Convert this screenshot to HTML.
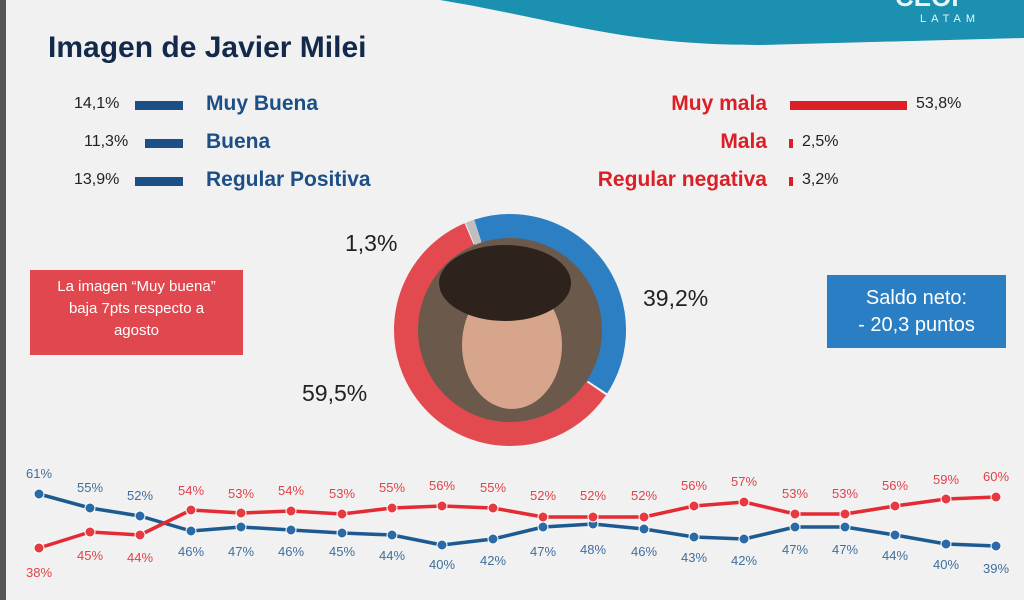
<!DOCTYPE html>
<html><head><meta charset="utf-8"><style>
body{margin:0;width:1024px;height:600px;overflow:hidden;background:#f1f1f1;font-family:"Liberation Sans",sans-serif;}
.t{position:absolute;white-space:nowrap;}
</style></head><body>
<svg width="1024" height="600" style="position:absolute;left:0;top:0">
<rect x="0" y="0" width="6" height="600" fill="#555"/>
<path d="M440 0 C560 20 620 45 760 45 L1024 38 L1024 0 Z" fill="#1b90b0"/>
<text x="920" y="22" font-size="11" fill="#e8f4f8" letter-spacing="5" font-family="Liberation Sans">LATAM</text>
<text x="895" y="6" font-size="26" font-weight="bold" fill="#e8f4f8" font-family="Liberation Sans">CEOP</text>
<rect x="135" y="101" width="48" height="9" fill="#1c4f86"/>
<rect x="145" y="139" width="38" height="9" fill="#1c4f86"/>
<rect x="135" y="177" width="48" height="9" fill="#1c4f86"/>
<rect x="790" y="101" width="117" height="9" fill="#dc1f26"/>
<rect x="789" y="139" width="4" height="9" fill="#dc1f26"/>
<rect x="789" y="177" width="4" height="9" fill="#dc1f26"/>
<circle cx="510" cy="330" r="93" fill="#6b5a4c"/>
<ellipse cx="512" cy="345" rx="50" ry="64" fill="#d6a58c"/>
<ellipse cx="505" cy="283" rx="66" ry="38" fill="#2e221c"/>
<g transform="rotate(-108 510 330)" fill="none" stroke-width="24">
<circle cx="510" cy="330" r="104" stroke="#2c7fc2" stroke-dasharray="256 400"/>
<circle cx="510" cy="330" r="104" stroke="#e24a50" stroke-dasharray="0 258 386 400"/>
<circle cx="510" cy="330" r="104" stroke="#bfbfbf" stroke-dasharray="0 645 8 400"/>
</g>
<rect x="30" y="270" width="213" height="85" fill="#e0474e"/>
<rect x="827" y="275" width="179" height="73" fill="#2a7fc4"/>
<g fill="none" stroke-width="3.5" stroke-linejoin="round">
<polyline stroke="#1e5a92" points="39,494 90,508 140,516 191,531 241,527 291,530 342,533 392,535 442,545 493,539 543,527 593,524 644,529 694,537 744,539 795,527 845,527 895,535 946,544 996,546"/>
<polyline stroke="#e32b33" points="39,548 90,532 140,535 191,510 241,513 291,511 342,514 392,508 442,506 493,508 543,517 593,517 644,517 694,506 744,502 795,514 845,514 895,506 946,499 996,497"/>
</g>
<g fill="#2a6aa6" stroke="#fff" stroke-width="1">
<circle cx="39" cy="494" r="5"/><circle cx="90" cy="508" r="5"/><circle cx="140" cy="516" r="5"/><circle cx="191" cy="531" r="5"/><circle cx="241" cy="527" r="5"/><circle cx="291" cy="530" r="5"/><circle cx="342" cy="533" r="5"/><circle cx="392" cy="535" r="5"/><circle cx="442" cy="545" r="5"/><circle cx="493" cy="539" r="5"/><circle cx="543" cy="527" r="5"/><circle cx="593" cy="524" r="5"/><circle cx="644" cy="529" r="5"/><circle cx="694" cy="537" r="5"/><circle cx="744" cy="539" r="5"/><circle cx="795" cy="527" r="5"/><circle cx="845" cy="527" r="5"/><circle cx="895" cy="535" r="5"/><circle cx="946" cy="544" r="5"/><circle cx="996" cy="546" r="5"/>
</g>
<g fill="#e53a40" stroke="#fff" stroke-width="1">
<circle cx="39" cy="548" r="5"/><circle cx="90" cy="532" r="5"/><circle cx="140" cy="535" r="5"/><circle cx="191" cy="510" r="5"/><circle cx="241" cy="513" r="5"/><circle cx="291" cy="511" r="5"/><circle cx="342" cy="514" r="5"/><circle cx="392" cy="508" r="5"/><circle cx="442" cy="506" r="5"/><circle cx="493" cy="508" r="5"/><circle cx="543" cy="517" r="5"/><circle cx="593" cy="517" r="5"/><circle cx="644" cy="517" r="5"/><circle cx="694" cy="506" r="5"/><circle cx="744" cy="502" r="5"/><circle cx="795" cy="514" r="5"/><circle cx="845" cy="514" r="5"/><circle cx="895" cy="506" r="5"/><circle cx="946" cy="499" r="5"/><circle cx="996" cy="497" r="5"/>
</g>
<g font-size="13" text-anchor="middle" font-family="Liberation Sans" fill="#3f6f9e">
<text x="39" y="478">61%</text><text x="90" y="492">55%</text><text x="140" y="500">52%</text>
<text x="191" y="556">46%</text><text x="241" y="556">47%</text><text x="291" y="556">46%</text><text x="342" y="556">45%</text><text x="392" y="560">44%</text><text x="442" y="569">40%</text><text x="493" y="565">42%</text><text x="543" y="556">47%</text><text x="593" y="554">48%</text><text x="644" y="556">46%</text><text x="694" y="562">43%</text><text x="744" y="565">42%</text><text x="795" y="554">47%</text><text x="845" y="554">47%</text><text x="895" y="560">44%</text><text x="946" y="569">40%</text><text x="996" y="573">39%</text>
</g>
<g font-size="13" text-anchor="middle" font-family="Liberation Sans" fill="#e0434a">
<text x="39" y="577">38%</text><text x="90" y="560">45%</text><text x="140" y="562">44%</text>
<text x="191" y="495">54%</text><text x="241" y="498">53%</text><text x="291" y="495">54%</text><text x="342" y="498">53%</text><text x="392" y="492">55%</text><text x="442" y="490">56%</text><text x="493" y="492">55%</text><text x="543" y="500">52%</text><text x="593" y="500">52%</text><text x="644" y="500">52%</text><text x="694" y="490">56%</text><text x="744" y="486">57%</text><text x="795" y="498">53%</text><text x="845" y="498">53%</text><text x="895" y="490">56%</text><text x="946" y="484">59%</text><text x="996" y="481">60%</text>
</g>
</svg>
<div class="t" style="left:48px;top:31px;font-size:30px;font-weight:bold;color:#13294b">Imagen de Javier Milei</div>
<div class="t" style="left:74px;top:95px;font-size:16px;color:#222">14,1%</div>
<div class="t" style="left:84px;top:133px;font-size:16px;color:#222">11,3%</div>
<div class="t" style="left:74px;top:171px;font-size:16px;color:#222">13,9%</div>
<div class="t" style="left:206px;top:92px;font-size:21px;font-weight:bold;color:#1c4f86">Muy Buena</div>
<div class="t" style="left:206px;top:130px;font-size:21px;font-weight:bold;color:#1c4f86">Buena</div>
<div class="t" style="left:206px;top:168px;font-size:21px;font-weight:bold;color:#1c4f86">Regular Positiva</div>
<div class="t" style="right:257px;top:92px;font-size:21px;font-weight:bold;color:#dc1f26">Muy mala</div>
<div class="t" style="right:257px;top:130px;font-size:21px;font-weight:bold;color:#dc1f26">Mala</div>
<div class="t" style="right:257px;top:168px;font-size:21px;font-weight:bold;color:#dc1f26">Regular negativa</div>
<div class="t" style="left:916px;top:95px;font-size:16px;color:#222">53,8%</div>
<div class="t" style="left:802px;top:133px;font-size:16px;color:#222">2,5%</div>
<div class="t" style="left:802px;top:171px;font-size:16px;color:#222">3,2%</div>
<div class="t" style="left:345px;top:230px;font-size:23px;color:#222">1,3%</div>
<div class="t" style="left:643px;top:285px;font-size:23px;color:#222">39,2%</div>
<div class="t" style="left:302px;top:380px;font-size:23px;color:#222">59,5%</div>
<div class="t" style="left:30px;top:276px;width:213px;text-align:center;font-size:15px;line-height:22px;color:#fff;white-space:normal">La imagen “Muy buena”<br>baja 7pts respecto a<br>agosto</div>
<div class="t" style="left:827px;top:285px;width:179px;text-align:center;font-size:20px;line-height:27px;color:#fff;white-space:normal">Saldo neto:<br>- 20,3 puntos</div>
</body></html>
